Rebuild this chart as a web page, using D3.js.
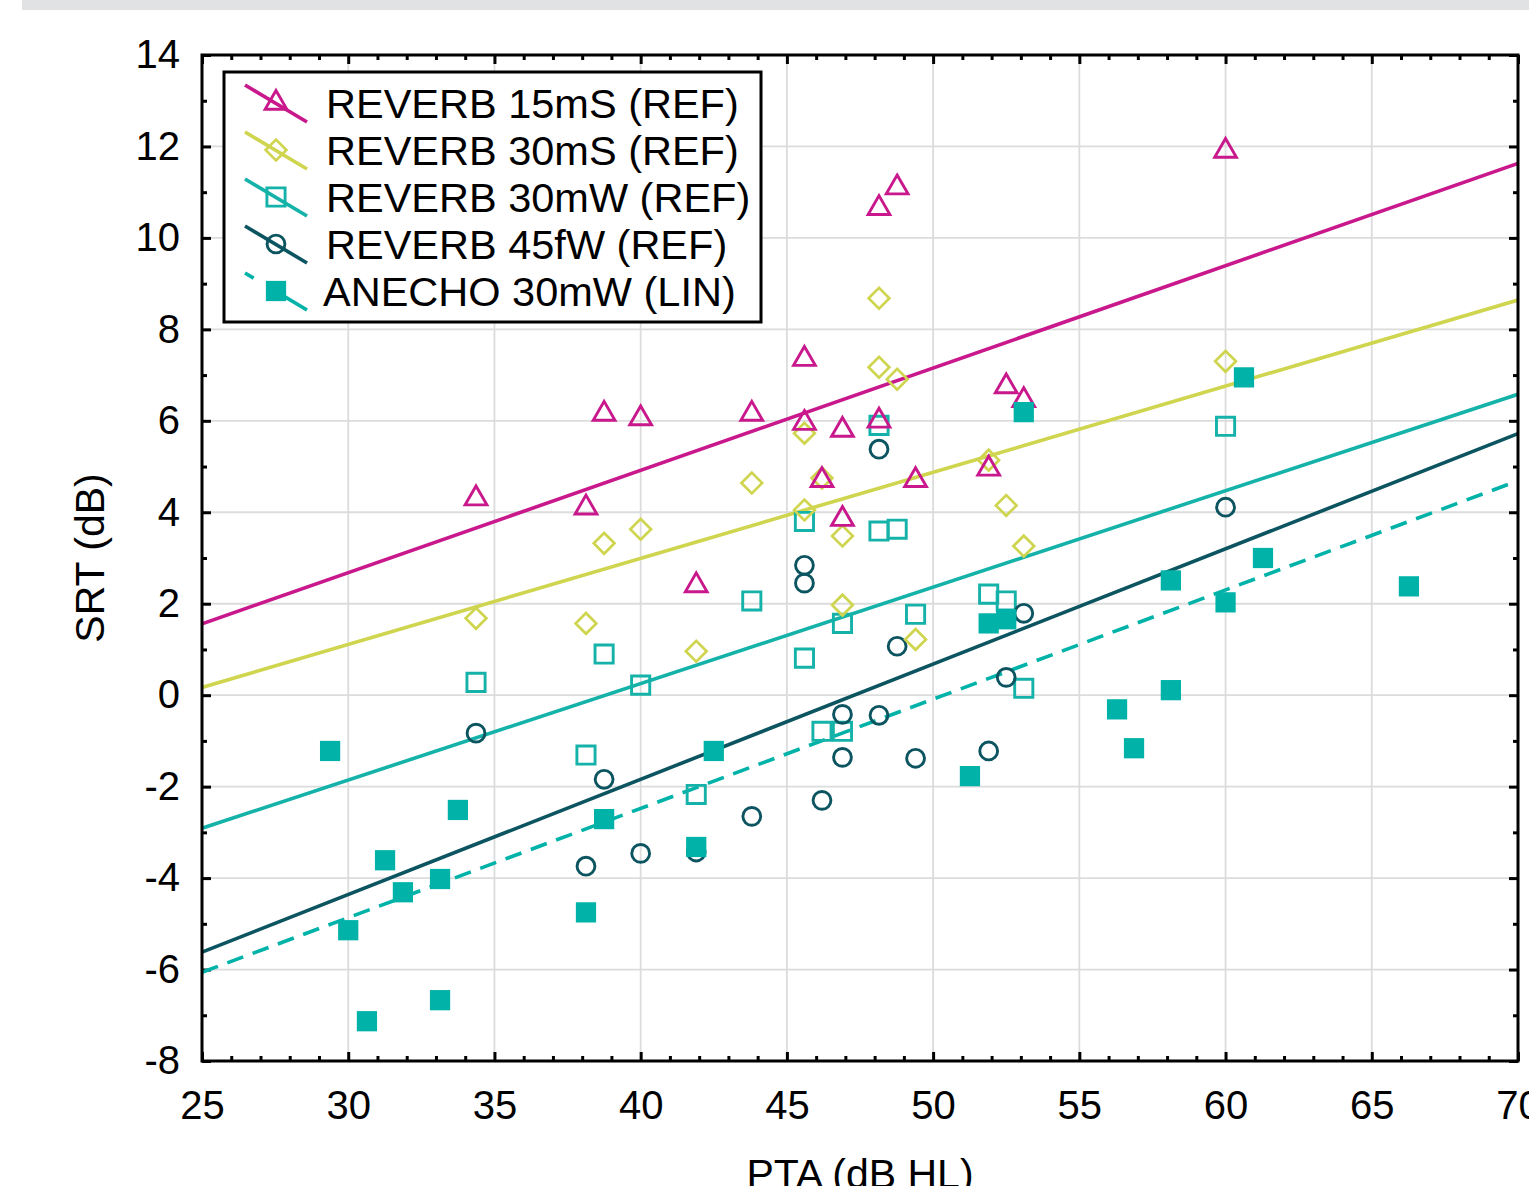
<!DOCTYPE html>
<html><head><meta charset="utf-8">
<script src="https://cdn.jsdelivr.net/npm/d3@7"></script>
<style>
html,body{margin:0;padding:0;background:#fff;overflow:hidden;}
svg{display:block;font-family:"Liberation Sans",Arial,sans-serif;}
</style></head>
<body>
<svg id="chart" width="1529" height="1186"></svg>
<script>
// ---- data ----
const seriesNames = ["REVERB 15mS (REF)", "REVERB 30mS (REF)", "REVERB 30mW (REF)", "REVERB 45fW (REF)", "ANECHO 30mW (LIN)"];
const seriesColors = ["#c8188c", "#cfd54e", "#14b2a8", "#0c5560", "#00b2a8"];
const seriesSymbols = ["triangle", "diamond", "square", "circle", "filledSquare"];

const pta15mS = [34.37,38.13,38.75,40.0,41.9,43.8,45.6,45.6,46.2,46.9,46.9,48.15,48.77,48.15,49.4,51.9,52.5,53.1,60.0];
const srt15mS = [4.3,4.1,6.15,6.05,2.4,6.15,7.35,5.95,4.7,5.8,3.85,10.65,11.1,6.0,4.7,4.95,6.75,6.45,11.9];

const pta30mS = [34.37,38.13,38.75,40.0,41.9,43.8,45.6,45.6,46.2,46.9,46.9,48.15,48.15,48.77,49.4,51.9,52.5,53.1,60.0];
const srt30mS = [1.68,1.57,3.32,3.63,0.96,4.64,5.73,4.05,4.75,3.48,1.97,8.68,7.17,6.91,1.22,5.14,4.15,3.26,7.3];

const pta30mW = [34.37,38.13,38.75,40.0,41.9,43.8,45.6,45.6,46.2,46.9,46.9,48.15,48.15,48.77,49.4,51.9,52.5,53.1,60.0];
const srt30mW = [0.28,-1.31,0.9,0.22,-2.17,2.06,3.8,0.81,-0.79,-0.79,1.57,5.9,3.59,3.63,1.77,2.21,2.06,0.15,5.88];

const pta45fW = [34.37,38.13,38.75,40.0,41.9,43.8,45.6,45.6,46.2,46.9,46.9,48.15,48.15,48.77,49.4,51.9,52.5,53.1,60.0];
const srt45fW = [-0.83,-3.74,-1.84,-3.46,-3.43,-2.65,2.84,2.45,-2.3,-0.42,-1.36,5.38,-0.44,1.07,-1.38,-1.22,0.39,1.79,4.11];

const ptaAnecho = [29.38,30.0,30.64,31.26,31.87,33.14,33.14,33.75,38.13,38.75,41.9,42.5,51.26,51.9,52.5,53.1,56.29,56.87,58.13,58.13,60.0,60.63,61.28,66.27];
const srtAnecho = [-1.22,-5.14,-7.13,-3.61,-4.31,-4.02,-6.67,-2.51,-4.75,-2.71,-3.32,-1.22,-1.77,1.57,1.66,6.19,-0.31,-1.16,2.51,0.11,2.03,6.95,3.0,2.38];

// regression lines: value at PTA 25 and PTA 70
const fitX = [25, 70];
const fitStart = [1.56, 0.17, -2.91, -5.62, -6.06];
const fitEnd = [11.63, 8.64, 6.58, 5.72, 4.69];

const xMajorTicks = [25,30,35,40,45,50,55,60,65,70];
const yMajorTicks = [-8,-6,-4,-2,0,2,4,6,8,10,12,14];

const xData = [pta15mS, pta30mS, pta30mW, pta45fW, ptaAnecho];
const yData = [srt15mS, srt30mS, srt30mW, srt45fW, srtAnecho];

// ---- chart ----
const svg = d3.select("#chart");
const L = 202, R = 1518, T = 55, B = 1061;
const x = d3.scaleLinear().domain([25,70]).range([L,R]);
const y = d3.scaleLinear().domain([-8,14]).range([B,T]);

// top grey band
svg.append("rect").attr("x",22).attr("y",0).attr("width",1507).attr("height",10).attr("fill","#e1e2e4");

// grid
const grid = svg.append("g");
grid.selectAll(".gx").data(xMajorTicks.slice(1,-1)).join("line")
  .attr("x1",d=>x(d)).attr("x2",d=>x(d)).attr("y1",T).attr("y2",B)
  .attr("stroke","#dcdcdc").attr("stroke-width",1.8);
grid.selectAll(".gy").data(yMajorTicks.slice(1,-1)).join("line")
  .attr("y1",d=>y(d)).attr("y2",d=>y(d)).attr("x1",L).attr("x2",R)
  .attr("stroke","#dcdcdc").attr("stroke-width",1.8);

// axes
const xMinor = d3.range(25,71,1).filter(v=>v%5!==0);
const yMinor = d3.range(-8,15,1).filter(v=>v%2!==0);
function styleAxis(g){
  g.select(".domain").remove();
  g.selectAll("line").attr("stroke","#000").attr("stroke-width",3);
  g.selectAll("text").attr("fill","#000").attr("font-size",40).attr("font-family","Liberation Sans, Arial, sans-serif");
}
// bottom major with labels
svg.append("g").attr("transform",`translate(0,${B})`)
  .call(d3.axisBottom(x).tickValues(xMajorTicks).tickFormat(d3.format("d")).tickSizeInner(-9).tickSizeOuter(0).tickPadding(29))
  .call(styleAxis).call(g=>g.selectAll("text").attr("dy","0.72em"));
svg.append("g").attr("transform",`translate(0,${B})`)
  .call(d3.axisBottom(x).tickValues(xMinor).tickFormat("").tickSizeInner(-5).tickSizeOuter(0)).call(styleAxis);
// top
svg.append("g").attr("transform",`translate(0,${T})`)
  .call(d3.axisTop(x).tickValues(xMajorTicks).tickFormat("").tickSizeInner(-9).tickSizeOuter(0)).call(styleAxis);
svg.append("g").attr("transform",`translate(0,${T})`)
  .call(d3.axisTop(x).tickValues(xMinor).tickFormat("").tickSizeInner(-5).tickSizeOuter(0)).call(styleAxis);
// left
svg.append("g").attr("transform",`translate(${L},0)`)
  .call(d3.axisLeft(y).tickValues(yMajorTicks).tickFormat(d3.format("d")).tickSizeInner(-9).tickSizeOuter(0).tickPadding(22))
  .call(styleAxis).call(g=>g.selectAll("text").text(d=>String(d)));
svg.append("g").attr("transform",`translate(${L},0)`)
  .call(d3.axisLeft(y).tickValues(yMinor).tickFormat("").tickSizeInner(-5).tickSizeOuter(0)).call(styleAxis);
// right
svg.append("g").attr("transform",`translate(${R},0)`)
  .call(d3.axisRight(y).tickValues(yMajorTicks).tickFormat("").tickSizeInner(-9).tickSizeOuter(0)).call(styleAxis);
svg.append("g").attr("transform",`translate(${R},0)`)
  .call(d3.axisRight(y).tickValues(yMinor).tickFormat("").tickSizeInner(-5).tickSizeOuter(0)).call(styleAxis);

// regression lines
const clipId = "plotclip";
svg.append("clipPath").attr("id",clipId).append("rect").attr("x",L).attr("y",T).attr("width",R-L).attr("height",B-T);
const lines = svg.append("g").attr("clip-path",`url(#${clipId})`);
const lineGen = d3.line().x(d=>x(d[0])).y(d=>y(d[1]));
seriesNames.forEach((n,i)=>{
  lines.append("path").datum([[fitX[0],fitStart[i]],[fitX[1],fitEnd[i]]])
    .attr("d",lineGen).attr("fill","none").attr("stroke",seriesColors[i]).attr("stroke-width",3.6)
    .attr("stroke-dasharray", i===4 ? "17,10" : null);
});

// markers
function marker(sel, kind, color){
  if(kind==="triangle"){
    sel.attr("d",d3.symbol(d3.symbolTriangle,205)()).attr("fill","none").attr("stroke",color).attr("stroke-width",2.9);
  } else if(kind==="diamond"){
    sel.attr("d",d3.symbol(d3.symbolSquare,215)()).attr("fill","none").attr("stroke",color).attr("stroke-width",2.7);
  } else if(kind==="square"){
    sel.attr("d",d3.symbol(d3.symbolSquare,330)()).attr("fill","none").attr("stroke",color).attr("stroke-width",2.9);
  } else if(kind==="circle"){
    sel.attr("d",d3.symbol(d3.symbolCircle,250)()).attr("fill","none").attr("stroke",color).attr("stroke-width",2.9);
  } else {
    sel.attr("d",d3.symbol(d3.symbolSquare,410)()).attr("fill",color).attr("stroke","none");
  }
}
const drawOrder = [2,3,1,0,4];
const pts = svg.append("g");
drawOrder.forEach(i=>{
  const data = xData[i].map((v,k)=>[v,yData[i][k]]);
  const rot = seriesSymbols[i]==="diamond" ? " rotate(45)" : "";
  pts.append("g").selectAll("path").data(data).join("path")
    .attr("transform",d=>`translate(${x(d[0])},${y(d[1])})${rot}`)
    .call(marker, seriesSymbols[i], seriesColors[i]);
});

// frame
svg.append("rect").attr("x",L).attr("y",T).attr("width",R-L).attr("height",B-T)
  .attr("fill","none").attr("stroke","#000").attr("stroke-width",3);

// axis titles
svg.append("text").attr("transform","translate(104,558) rotate(-90)").attr("text-anchor","middle")
  .attr("font-size",41).attr("fill","#000").text("SRT (dB)");
svg.append("text").attr("x",860).attr("y",1188).attr("text-anchor","middle")
  .attr("font-size",41).attr("fill","#000").text("PTA (dB HL)");

// legend
const lg = svg.append("g");
lg.append("rect").attr("x",224).attr("y",72).attr("width",537).attr("height",250)
  .attr("fill","#fff").attr("stroke","#000").attr("stroke-width",3);
seriesNames.forEach((n,i)=>{
  const cy = 103 + i*47;
  const gi = lg.append("g");
  gi.append("line").attr("x1",245).attr("y1",cy-18).attr("x2",307).attr("y2",cy+19)
    .attr("stroke",seriesColors[i]).attr("stroke-width",3.6)
    .attr("stroke-dasharray", i===4 ? "10,23,40" : null);
  const rot = seriesSymbols[i]==="diamond" ? " rotate(45)" : "";
  gi.append("path").attr("transform",`translate(276,${cy})${rot}`).call(marker, seriesSymbols[i], seriesColors[i]);
  gi.append("text").attr("x", i===4 ? 323 : 326).attr("y",cy+15).attr("font-size",41.5).attr("fill","#000").text(n);
});
</script>
</body></html>
